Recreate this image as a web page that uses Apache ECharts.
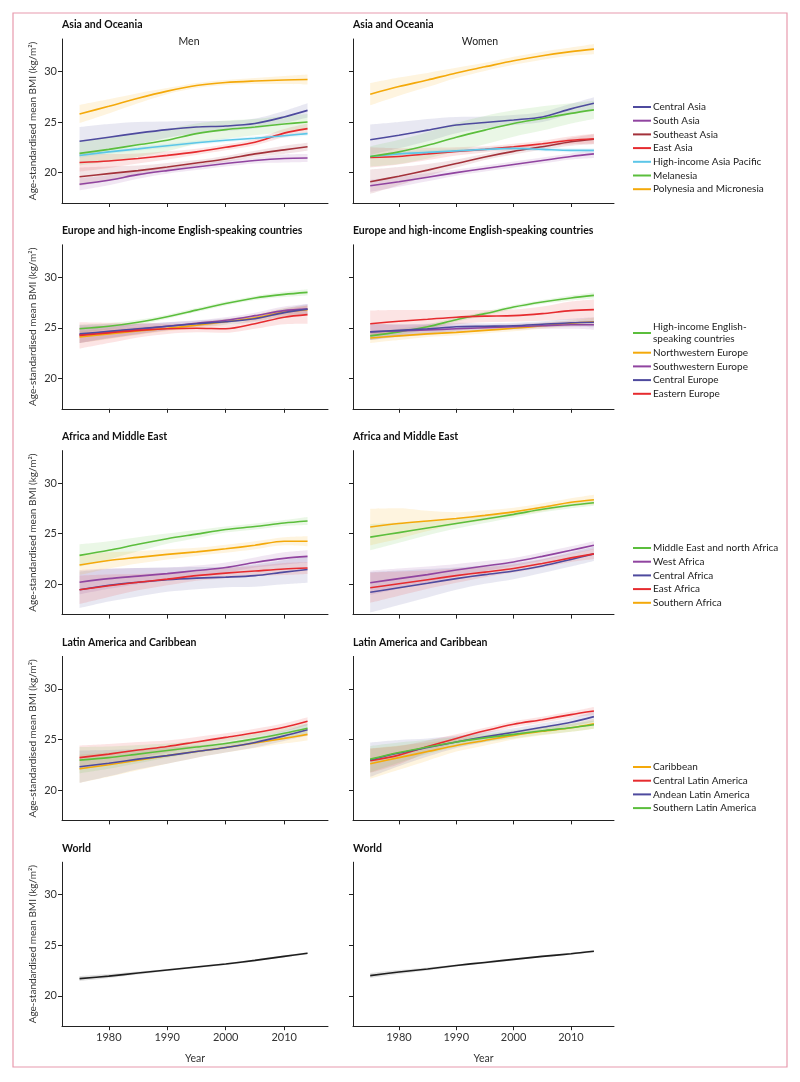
<!DOCTYPE html>
<html>
<head>
<meta charset="utf-8">
<script src="https://cdn.jsdelivr.net/npm/echarts@6/dist/echarts.min.js"></script>
<style>
html,body{margin:0;padding:0;background:#fff;}
#chart{width:800px;height:1082px;}
</style>
</head>
<body>
<div id="chart"></div>
<script>
// ---------------- DATA ----------------
const years = [1975, 1980, 1985, 1990, 1995, 2000, 2005, 2010, 2014];
const xTicks = [1980, 1990, 2000, 2010];
const yTicks = [20, 25, 30];
const rowTitles = ['Asia and Oceania', 'Europe and high-income English-speaking countries', 'Africa and Middle East', 'Latin America and Caribbean', 'World'];
const sexLabels = ['Men', 'Women'];
const yAxisTitle = 'Age-standardised mean BMI (kg/m\u00B2)';
const xAxisTitle = 'Year';

// Asia and Oceania
const asiaNames = ['Central Asia', 'South Asia', 'Southeast Asia', 'East Asia', 'High-income Asia Pacific', 'Melanesia', 'Polynesia and Micronesia'];
const asiaMen = [
  [23.1, 23.5, 23.9, 24.25, 24.5, 24.6, 24.85, 25.5, 26.15],
  [18.85, 19.25, 19.8, 20.2, 20.55, 20.9, 21.2, 21.4, 21.45],
  [19.6, 19.9, 20.2, 20.55, 20.95, 21.35, 21.85, 22.25, 22.55],
  [21.0, 21.15, 21.4, 21.7, 22.05, 22.5, 23.0, 23.9, 24.35],
  [21.7, 22.05, 22.35, 22.65, 22.95, 23.2, 23.4, 23.65, 23.85],
  [21.9, 22.3, 22.75, 23.2, 23.85, 24.25, 24.5, 24.8, 25.0],
  [25.8, 26.55, 27.35, 28.05, 28.6, 28.9, 29.05, 29.15, 29.2]
];
const asiaMenHalf = [
  [1.4, 1.3, 1.1, 0.8, 0.6, 0.5, 0.5, 0.6, 0.7],
  [0.6, 0.5, 0.4, 0.3, 0.3, 0.3, 0.3, 0.4, 0.4],
  [0.9, 0.7, 0.5, 0.4, 0.3, 0.3, 0.3, 0.4, 0.4],
  [0.9, 0.7, 0.5, 0.4, 0.3, 0.3, 0.3, 0.4, 0.5],
  [0.2, 0.2, 0.2, 0.2, 0.2, 0.2, 0.2, 0.2, 0.2],
  [1.2, 1.2, 1.2, 1.1, 1.0, 0.9, 0.8, 0.8, 0.8],
  [0.9, 0.7, 0.5, 0.3, 0.25, 0.25, 0.3, 0.4, 0.5]
];
const asiaWomen = [
  [23.25, 23.7, 24.2, 24.7, 24.95, 25.2, 25.5, 26.3, 26.85],
  [18.7, 19.1, 19.55, 20.0, 20.4, 20.8, 21.2, 21.6, 21.85],
  [19.1, 19.65, 20.25, 20.9, 21.55, 22.1, 22.55, 23.05, 23.3],
  [21.5, 21.6, 21.85, 22.1, 22.3, 22.55, 22.85, 23.2, 23.35],
  [21.6, 21.85, 22.0, 22.15, 22.3, 22.4, 22.3, 22.2, 22.2],
  [21.6, 22.05, 22.7, 23.5, 24.2, 24.85, 25.35, 25.85, 26.2],
  [27.75, 28.5, 29.15, 29.85, 30.45, 31.05, 31.55, 31.95, 32.2]
];
const asiaWomenHalf = [
  [1.5, 1.3, 1.1, 0.8, 0.6, 0.5, 0.5, 0.5, 0.6],
  [0.6, 0.5, 0.4, 0.3, 0.3, 0.3, 0.3, 0.3, 0.4],
  [1.2, 0.9, 0.6, 0.4, 0.3, 0.3, 0.3, 0.4, 0.5],
  [1.0, 0.8, 0.6, 0.4, 0.3, 0.3, 0.3, 0.4, 0.5],
  [0.2, 0.2, 0.2, 0.2, 0.2, 0.2, 0.2, 0.2, 0.2],
  [1.0, 1.2, 1.3, 1.4, 1.4, 1.3, 1.2, 1.0, 0.9],
  [1.1, 0.9, 0.7, 0.5, 0.4, 0.4, 0.4, 0.4, 0.5]
];

// Europe and high-income English-speaking countries
const europeNames = ['High-income English-speaking countries', 'Northwestern Europe', 'Southwestern Europe', 'Central Europe', 'Eastern Europe'];
const europeMen = [
  [24.9, 25.15, 25.55, 26.1, 26.75, 27.4, 27.95, 28.3, 28.5],
  [24.1, 24.4, 24.7, 24.95, 25.25, 25.6, 26.0, 26.55, 26.8],
  [24.3, 24.6, 24.85, 25.15, 25.45, 25.75, 26.2, 26.7, 26.85],
  [24.4, 24.65, 24.9, 25.15, 25.4, 25.6, 25.9, 26.5, 26.85],
  [24.25, 24.5, 24.75, 24.9, 24.95, 24.9, 25.4, 26.05, 26.3]
];
const europeMenHalf = [
  [0.4, 0.3, 0.25, 0.2, 0.2, 0.2, 0.2, 0.25, 0.3],
  [0.6, 0.5, 0.4, 0.3, 0.3, 0.3, 0.3, 0.4, 0.4],
  [0.8, 0.6, 0.5, 0.4, 0.3, 0.3, 0.3, 0.4, 0.5],
  [0.9, 0.7, 0.5, 0.4, 0.3, 0.3, 0.3, 0.4, 0.5],
  [1.3, 1.0, 0.7, 0.5, 0.4, 0.4, 0.5, 0.7, 0.9]
];
const europeWomen = [
  [24.2, 24.6, 25.1, 25.8, 26.4, 27.05, 27.55, 27.95, 28.2],
  [24.0, 24.2, 24.4, 24.55, 24.75, 24.95, 25.2, 25.45, 25.6],
  [24.6, 24.7, 24.8, 24.9, 25.0, 25.1, 25.2, 25.3, 25.3],
  [24.6, 24.75, 24.9, 25.1, 25.15, 25.2, 25.35, 25.5, 25.55],
  [25.4, 25.65, 25.85, 26.05, 26.15, 26.2, 26.4, 26.7, 26.8]
];
const europeWomenHalf = [
  [0.4, 0.3, 0.25, 0.2, 0.2, 0.2, 0.2, 0.25, 0.3],
  [0.5, 0.4, 0.3, 0.3, 0.3, 0.3, 0.3, 0.3, 0.4],
  [0.8, 0.6, 0.5, 0.4, 0.3, 0.3, 0.3, 0.4, 0.5],
  [0.8, 0.6, 0.5, 0.4, 0.3, 0.3, 0.3, 0.4, 0.5],
  [1.3, 1.1, 0.9, 0.7, 0.6, 0.6, 0.7, 0.9, 1.0]
];

// Africa and Middle East
const africaNames = ['Middle East and north Africa', 'West Africa', 'Central Africa', 'East Africa', 'Southern Africa'];
const africaMen = [
  [22.85, 23.35, 23.95, 24.5, 24.95, 25.4, 25.7, 26.05, 26.25],
  [20.2, 20.55, 20.8, 21.05, 21.35, 21.65, 22.15, 22.55, 22.75],
  [19.45, 19.9, 20.2, 20.45, 20.6, 20.7, 20.85, 21.2, 21.45],
  [19.45, 19.85, 20.2, 20.5, 20.85, 21.1, 21.3, 21.5, 21.6],
  [21.9, 22.35, 22.65, 22.95, 23.2, 23.5, 23.85, 24.25, 24.25]
];
const africaMenHalf = [
  [1.1, 0.9, 0.7, 0.5, 0.4, 0.3, 0.3, 0.3, 0.4],
  [1.2, 1.0, 0.8, 0.6, 0.5, 0.5, 0.5, 0.6, 0.6],
  [1.8, 1.6, 1.4, 1.2, 1.1, 1.0, 1.1, 1.2, 1.3],
  [1.4, 1.1, 0.8, 0.6, 0.5, 0.5, 0.5, 0.6, 0.6],
  [1.0, 0.8, 0.6, 0.5, 0.4, 0.4, 0.4, 0.4, 0.5]
];
const africaWomen = [
  [24.65, 25.1, 25.55, 26.0, 26.45, 26.9, 27.4, 27.8, 28.05],
  [20.15, 20.55, 20.95, 21.4, 21.8, 22.2, 22.75, 23.35, 23.85],
  [19.2, 19.65, 20.1, 20.55, 20.95, 21.3, 21.8, 22.45, 23.0],
  [19.65, 20.05, 20.45, 20.85, 21.2, 21.55, 22.05, 22.6, 23.0],
  [25.65, 26.0, 26.25, 26.5, 26.8, 27.15, 27.6, 28.1, 28.35]
];
const africaWomenHalf = [
  [1.3, 1.0, 0.7, 0.5, 0.4, 0.3, 0.3, 0.3, 0.3],
  [1.2, 1.0, 0.8, 0.6, 0.5, 0.4, 0.4, 0.4, 0.4],
  [2.0, 1.7, 1.4, 1.1, 0.9, 0.8, 0.7, 0.7, 0.7],
  [1.5, 1.2, 0.9, 0.7, 0.5, 0.4, 0.4, 0.4, 0.5],
  [1.8, 1.5, 1.0, 0.6, 0.5, 0.4, 0.4, 0.4, 0.5]
];

// Latin America and Caribbean
const latinNames = ['Caribbean', 'Central Latin America', 'Andean Latin America', 'Southern Latin America'];
const latinMen = [
  [22.1, 22.5, 22.95, 23.4, 23.8, 24.2, 24.65, 25.1, 25.5],
  [23.2, 23.55, 23.95, 24.3, 24.75, 25.2, 25.65, 26.2, 26.8],
  [22.3, 22.65, 23.05, 23.4, 23.8, 24.2, 24.7, 25.35, 25.95],
  [22.95, 23.2, 23.55, 23.9, 24.25, 24.6, 25.05, 25.6, 26.1]
];
const latinMenHalf = [
  [1.4, 1.2, 1.0, 0.8, 0.6, 0.5, 0.5, 0.5, 0.6],
  [1.2, 1.0, 0.8, 0.6, 0.5, 0.4, 0.4, 0.4, 0.4],
  [1.6, 1.3, 1.0, 0.8, 0.6, 0.5, 0.5, 0.5, 0.6],
  [1.3, 1.1, 0.9, 0.7, 0.6, 0.5, 0.5, 0.5, 0.5]
];
const latinWomen = [
  [22.6, 23.2, 23.8, 24.4, 24.9, 25.4, 25.8, 26.15, 26.55],
  [22.9, 23.45, 24.3, 25.1, 25.85, 26.5, 26.95, 27.45, 27.8],
  [23.0, 23.65, 24.2, 24.75, 25.25, 25.7, 26.2, 26.7, 27.25],
  [23.05, 23.7, 24.25, 24.75, 25.15, 25.5, 25.85, 26.15, 26.45]
];
const latinWomenHalf = [
  [1.5, 1.2, 0.9, 0.6, 0.5, 0.4, 0.4, 0.4, 0.5],
  [1.2, 0.9, 0.6, 0.4, 0.3, 0.3, 0.3, 0.3, 0.4],
  [1.7, 1.3, 0.9, 0.6, 0.5, 0.4, 0.4, 0.4, 0.5],
  [1.3, 1.0, 0.7, 0.5, 0.4, 0.4, 0.4, 0.4, 0.4]
];

// World
const worldNames = ['World'];
const worldMen = [[21.7, 21.95, 22.25, 22.55, 22.85, 23.15, 23.5, 23.9, 24.2]];
const worldMenHalf = [[0.25, 0.2, 0.15, 0.1, 0.1, 0.1, 0.1, 0.1, 0.1]];
const worldWomen = [[22.0, 22.35, 22.65, 23.0, 23.3, 23.6, 23.9, 24.15, 24.4]];
const worldWomenHalf = [[0.25, 0.2, 0.15, 0.1, 0.1, 0.1, 0.1, 0.1, 0.1]];

// ---------------- STYLE ----------------
const colorOf = {
  'Central Asia': '#4E4A9E', 'South Asia': '#9044A0', 'Southeast Asia': '#A3313A', 'East Asia': '#E62B2F',
  'High-income Asia Pacific': '#5CC6E8', 'Melanesia': '#5BBE3C', 'Polynesia and Micronesia': '#F4A90A',
  'High-income English-speaking countries': '#5BBE3C', 'Northwestern Europe': '#F4A90A', 'Southwestern Europe': '#9044A0',
  'Central Europe': '#4E4A9E', 'Eastern Europe': '#E62B2F',
  'Middle East and north Africa': '#5BBE3C', 'West Africa': '#9044A0', 'Central Africa': '#4E4A9E',
  'East Africa': '#E62B2F', 'Southern Africa': '#F4A90A',
  'Caribbean': '#F4A90A', 'Central Latin America': '#E62B2F', 'Andean Latin America': '#4E4A9E', 'Southern Latin America': '#5BBE3C',
  'World': '#1E1E1E'
};
const FONT = 'Lato, "Open Sans", sans-serif';

const rows = [
  { names: asiaNames, data: [[asiaMen, asiaMenHalf], [asiaWomen, asiaWomenHalf]] },
  { names: europeNames, data: [[europeMen, europeMenHalf], [europeWomen, europeWomenHalf]] },
  { names: africaNames, data: [[africaMen, africaMenHalf], [africaWomen, africaWomenHalf]] },
  { names: latinNames, data: [[latinMen, latinMenHalf], [latinWomen, latinWomenHalf]] },
  { names: worldNames, data: [[worldMen, worldMenHalf], [worldWomen, worldWomenHalf]] }
];

const colLeft = [62, 353];
const colWidth = [266, 261];
const rowTop0 = 39, rowStep = 205.8, gridH = 164;

const grids = [], xAxes = [], yAxes = [], series = [], graphics = [], legends = [];

graphics.push({
  type: 'rect', shape: { x: 13, y: 13, width: 774, height: 1054 },
  style: { fill: 'none', stroke: '#E89AAD', lineWidth: 1.2 }, silent: true
});

rows.forEach((row, r) => {
  const top = rowTop0 + r * rowStep;
  for (let c = 0; c < 2; c++) {
    const gi = r * 2 + c;
    grids.push({ left: colLeft[c], top: top, width: colWidth[c], height: gridH, containLabel: false });
    const isBottom = r === rows.length - 1;
    xAxes.push({
      type: 'value', gridIndex: gi, min: 1972, max: 2017.5,
      axisLine: { show: true, onZero: false, lineStyle: { color: '#222', width: 1 } },
      axisTick: { show: true, customValues: xTicks, length: 4, lineStyle: { color: '#222', width: 1 } },
      axisLabel: { show: isBottom, customValues: xTicks, formatter: v => String(v), fontSize: 11, color: '#333', fontFamily: FONT, margin: 6 },
      splitLine: { show: false },
      name: isBottom ? xAxisTitle : '', nameLocation: 'middle', nameGap: 27,
      nameTextStyle: { fontSize: 10.5, color: '#333', fontFamily: FONT }
    });
    yAxes.push({
      type: 'value', gridIndex: gi, min: 17, max: 33.2,
      axisLine: { show: true, lineStyle: { color: '#222', width: 1 } },
      axisTick: { show: true, customValues: yTicks, length: 4, lineStyle: { color: '#222', width: 1 } },
      axisLabel: { show: c === 0, customValues: yTicks, fontSize: 11, color: '#333', fontFamily: FONT, margin: 5 },
      splitLine: { show: false },
      name: c === 0 ? yAxisTitle : '', nameLocation: 'middle', nameGap: 24, nameRotate: 90,
      nameTextStyle: { fontSize: 10, color: '#333', fontFamily: FONT }
    });
    graphics.push({
      type: 'text', x: colLeft[c], y: top - 14, silent: true,
      style: { text: rowTitles[r], textAlign: 'left', textVerticalAlign: 'middle', fontSize: 10.5, fontWeight: 'bold', fontFamily: FONT, fill: '#111' }
    });
    if (r === 0) {
      graphics.push({
        type: 'text', x: c === 0 ? 189 : 480, y: 42, silent: true,
        style: { text: sexLabels[c], textAlign: 'center', textVerticalAlign: 'middle', fontSize: 10.5, fontFamily: FONT, fill: '#222' }
      });
    }
    const [vals, halfs] = row.data[c];
    // uncertainty bands: value in first column (stacked dimension), year in second; encode maps them to y / x
    row.names.forEach((name, i) => {
      const col = colorOf[name];
      const stackId = 'band' + gi + '_' + i;
      series.push({
        type: 'line', name: name + ' lower', xAxisIndex: gi, yAxisIndex: gi, stack: stackId,
        encode: { x: 1, y: 0 },
        data: years.map((y, k) => [vals[i][k] - halfs[i][k], y]),
        symbol: 'none', smooth: 0.3, silent: true, z: 1,
        lineStyle: { opacity: 0 }
      });
      series.push({
        type: 'line', name: name + ' band', xAxisIndex: gi, yAxisIndex: gi, stack: stackId,
        encode: { x: 1, y: 0 },
        data: years.map((y, k) => [2 * halfs[i][k], y]),
        symbol: 'none', smooth: 0.3, silent: true, z: 1,
        lineStyle: { opacity: 0 }, areaStyle: { color: col, opacity: 0.13 }
      });
    });
    row.names.forEach((name, i) => {
      const col = colorOf[name];
      series.push({
        type: 'line', name: name, xAxisIndex: gi, yAxisIndex: gi,
        data: years.map((y, k) => [y, vals[i][k]]),
        symbol: 'none', smooth: 0.3, z: 3, silent: true,
        lineStyle: { color: col, width: 1.6 }, itemStyle: { color: col }
      });
    });
  }
});

const legendTops = [101, 321, 542, 761];
rows.slice(0, 4).forEach((row, r) => {
  legends.push({
    orient: 'vertical', left: 633, top: legendTops[r], padding: 0, itemGap: 1.7,
    itemWidth: 18, itemHeight: 2, icon: 'rect', selectedMode: false,
    data: row.names,
    formatter: n => n === 'High-income English-speaking countries' ? 'High-income English-\nspeaking countries' : n,
    textStyle: { fontSize: 10, lineHeight: 12, color: '#222', fontFamily: FONT, padding: [0, 0, 0, -3] }
  });
});

const chart = echarts.init(document.getElementById('chart'), null, { renderer: 'canvas' });
chart.setOption({
  animation: false,
  backgroundColor: '#fff',
  grid: grids, xAxis: xAxes, yAxis: yAxes, series: series,
  legend: legends, graphic: graphics
});
</script>
</body>
</html>
